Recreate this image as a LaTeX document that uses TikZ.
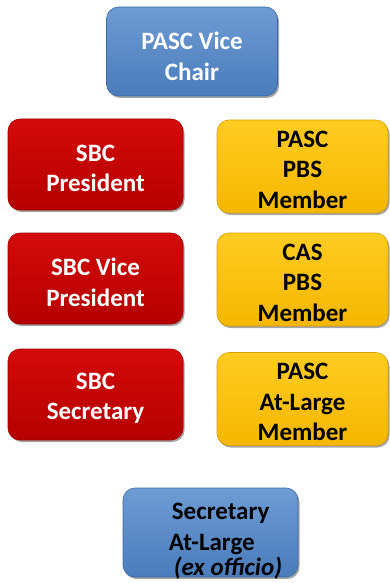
\documentclass[tikz,border=0pt]{standalone}
\usepackage{fontspec}
\setmainfont{Carlito}
\usetikzlibrary{shadows}
\definecolor{bluetop}{HTML}{6E9BD3}
\definecolor{bluebot}{HTML}{4A7CBB}
\definecolor{blueedge}{HTML}{3E6AA3}
\definecolor{redtop}{HTML}{D40A0A}
\definecolor{redbot}{HTML}{B50000}
\definecolor{rededge}{HTML}{9C0000}
\definecolor{yeltop}{HTML}{FFCC22}
\definecolor{yelbot}{HTML}{F5B700}
\definecolor{yeledge}{HTML}{D9A000}
\tikzset{
  orgbox/.style={rectangle, rounded corners=12pt, minimum width=175pt, minimum height=91pt,
    inner sep=0pt, line width=0.6pt,
    drop shadow={shadow xshift=1.5pt, shadow yshift=-2pt, opacity=0.35, fill=black}},
  bluebox/.style={orgbox, top color=bluetop, bottom color=bluebot, draw=blueedge},
  redbox/.style={orgbox, top color=redtop, bottom color=redbot, draw=rededge},
  yelbox/.style={orgbox, top color=yeltop, bottom color=yelbot, draw=yeledge, minimum width=171pt, minimum height=93pt},
  txt/.style={inner sep=0pt, align=center, font=\fontsize{25}{30.5}\selectfont\bfseries},
  wtxt/.style={txt, text=white},
  btxt/.style={txt, text=black},
  lbl/.style={inner sep=0pt, align=left, font=\fontsize{25}{30.5}\selectfont\bfseries, text=black}
}
\begin{document}
\begin{tikzpicture}[x=1pt,y=1pt]
\useasboundingbox (0,0) rectangle (389,-583);
\node[bluebox, minimum width=171pt, minimum height=89pt,
  label={[wtxt, yshift=-5pt]center:PASC Vice\\Chair}] (vc) at (192,-51.5) {};
\node[redbox, label={[wtxt, yshift=-4pt]center:SBC\\President}] (pres) at (95.5,-164.5) {};
\node[yelbox, label={[btxt, yshift=-3pt]center:PASC\\PBS\\Member}] (ppbs) at (302.5,-166.5) {};
\node[redbox, label={[wtxt, yshift=-4pt]center:SBC Vice\\President}] (vp) at (95.5,-278.5) {};
\node[yelbox, label={[btxt, yshift=-3pt]center:CAS\\PBS\\Member}] (cas) at (302.5,-279.5) {};
\node[redbox, label={[wtxt, yshift=-4pt]center:SBC\\Secretary}] (sec) at (95.5,-394.5) {};
\node[yelbox, label={[btxt, yshift=-3pt]center:PASC\\At-Large\\Member}] (pal) at (302.5,-399) {};
\node[bluebox, minimum height=89pt] (sal) at (210.5,-532.5) {};
\node[lbl, anchor=west] (saltext) at ([xshift=46pt,yshift=-9pt]sal.west)
  {\hspace{3pt}Secretary\\[0pt]At-Large\\[-5pt]\hspace{5pt}\textit{(ex officio)}};
\end{tikzpicture}
\end{document}
